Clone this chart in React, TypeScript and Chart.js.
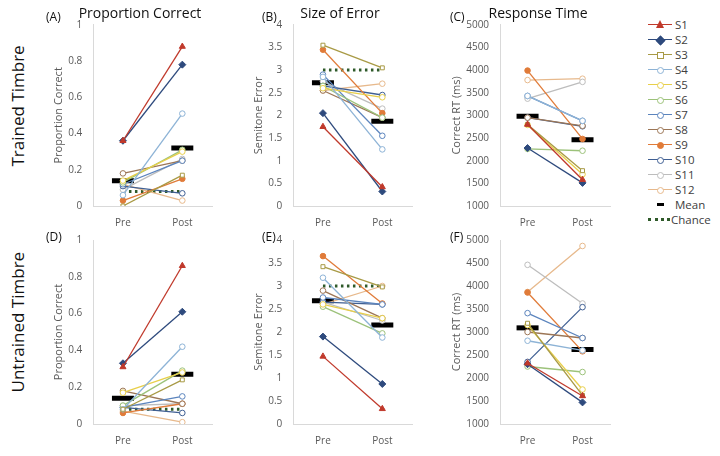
import React, { useEffect, useRef } from "react";
import { Chart, registerables } from "chart.js";
Chart.register(...registerables);

const phases = ["Pre", "Post"];
const subjects = ["S1","S2","S3","S4","S5","S6","S7","S8","S9","S10","S11","S12"];
const colors = ["#c0392b","#2e4a7d","#a89a45","#8db3d6","#e8cf4a","#9cc27a","#5b84bd","#9c7656","#e07b39","#3f5f93","#bdbdbd","#e7b98c"];
const styles = ["triangle","rectRot","rect","circle","circle","circle","circle","circle","circle","circle","circle","circle"];
const filled = [true,true,false,false,false,false,false,false,true,false,false,false];

const propTrainedPre = [0.36,0.36,0.0,0.06,0.14,0.13,0.12,0.18,0.03,0.11,0.09,0.12];
const propTrainedPost = [0.88,0.78,0.17,0.51,0.30,0.31,0.25,0.25,0.15,0.07,0.26,0.03];
const propTrainedMean = [0.14,0.32];
const errTrainedPre = [1.75,2.05,3.55,2.85,2.6,2.65,2.9,2.55,3.45,2.65,2.75,2.55];
const errTrainedPost = [0.42,0.32,3.05,1.25,2.4,1.95,1.55,1.95,2.05,2.45,2.15,2.7];
const errTrainedMean = [2.72,1.87];
const rtTrainedPre = [2800,2280,2800,3430,2790,2260,3430,2950,3990,2950,3370,3780];
const rtTrainedPost = [1580,1510,1780,2880,1700,2220,2880,2770,2480,2760,3740,3810];
const rtTrainedMean = [2980,2460];
const propUntrainedPre = [0.31,0.33,0.08,0.08,0.17,0.10,0.09,0.18,0.06,0.09,0.10,0.07];
const propUntrainedPost = [0.86,0.61,0.24,0.42,0.28,0.29,0.15,0.11,0.11,0.06,0.11,0.01];
const propUntrainedMean = [0.14,0.27];
const errUntrainedPre = [1.47,1.9,3.42,3.18,2.6,2.55,2.75,2.9,3.65,2.65,2.65,2.6];
const errUntrainedPost = [0.33,0.87,2.98,1.88,2.3,1.97,2.6,2.3,2.62,2.6,2.25,3.0];
const errUntrainedMean = [2.68,2.15];
const rtUntrainedPre = [2320,2300,3190,2810,3150,2250,3410,3000,3860,2350,4460,3870];
const rtUntrainedPost = [1610,1470,1620,2600,1750,2130,2870,2870,2580,3540,3620,4870];
const rtUntrainedMean = [3090,2620];
const propChance = [0.08,0.08];
const errChance = [3,3];

const FONT = "'Open Sans', sans-serif";

type PanelProps = { left:number; top:number; pre:number[]; post:number[]; mean:number[]; chance?:number[]; min:number; max:number; step:number; yTitle:string; title?:string; };

function Panel(p: PanelProps) {
  const ref = useRef<HTMLCanvasElement>(null);
  useEffect(() => {
    const datasets: any[] = subjects.map((s, i) => ({
      label: s, data: [p.pre[i], p.post[i]], borderColor: colors[i], backgroundColor: filled[i] ? colors[i] : "#fff",
      pointBorderColor: colors[i], pointStyle: styles[i], pointRadius: i < 2 ? 3.5 : 2.8, borderWidth: 1.3, pointBorderWidth: 1,
    }));
    if (p.chance) datasets.push({ label: "Chance", data: p.chance, borderColor: "#2f5a2a", borderDash: [2.5, 3.5], borderWidth: 3, pointRadius: 0 });
    datasets.push({ label: "Mean", data: p.mean, showLine: false, pointStyle: "line", pointRadius: 11, pointBorderWidth: 5, borderColor: "#000", backgroundColor: "#000" });
    const ch = new Chart(ref.current!, {
      type: "line",
      data: { labels: phases, datasets },
      options: {
        animation: false, responsive: false, maintainAspectRatio: false,
        layout: { padding: { top: 0, right: 0 } },
        plugins: { legend: { display: false }, tooltip: { enabled: false },
          title: { display: !!p.title, text: p.title || "", color: "#111", font: { family: FONT, size: 14, weight: "normal" }, padding: { top: 0, bottom: 2 } } },
        scales: {
          x: { offset: true, grid: { display: false }, border: { color: "#d9d9d9" }, ticks: { color: "#595959", font: { family: FONT, size: 10 } } },
          y: { min: p.min, max: p.max, ticks: { stepSize: p.step, color: "#595959", font: { family: FONT, size: 10 }, callback: (v: any) => String(Math.round(Number(v) * 100) / 100) },
            grid: { display: false, drawTicks: true }, border: { color: "#d9d9d9" },
            title: { display: true, text: p.yTitle, color: "#595959", font: { family: FONT, size: 11 }, padding: 0 } },
        },
      },
    });
    return () => ch.destroy();
  }, []);
  return <canvas ref={ref} width={176} height={226} style={{ position: "absolute", left: p.left, top: p.top }} />;
}

function Marker({ i }: { i: number }) {
  if (styles[i] === "triangle") {
    return <div style={{ position: "absolute", top: 0, left: 8, width: 0, height: 0, borderLeft: "4px solid transparent", borderRight: "4px solid transparent", borderBottom: `8px solid ${colors[i]}` }} />;
  }
  return <div style={{ position: "absolute", top: 2, left: 9, width: 5, height: 5, border: `1.2px solid ${colors[i]}`, background: filled[i] ? colors[i] : "#fff",
    borderRadius: styles[i] === "circle" ? "50%" : 0, transform: styles[i] === "rectRot" ? "rotate(45deg)" : undefined }} />;
}

function Legend() {
  const items = subjects.map((s, i) => (
    <div key={s} style={{ display: "flex", alignItems: "center", height: 15 }}>
      <div style={{ position: "relative", width: 24, height: 10 }}>
        <div style={{ position: "absolute", top: 4, left: 0, width: 24, height: 1.5, background: colors[i] }} />
        <Marker i={i} />
      </div>
      <span style={{ marginLeft: 3 }}>{s}</span>
    </div>
  ));
  return (
    <div style={{ position: "absolute", left: 648, top: 17, fontFamily: FONT, fontSize: 11.5, color: "#404040" }}>
      {items}
      <div style={{ display: "flex", alignItems: "center", height: 15 }}>
        <div style={{ width: 24, display: "flex", justifyContent: "center" }}><div style={{ width: 7, height: 3, background: "#000" }} /></div>
        <span style={{ marginLeft: 3 }}>Mean</span>
      </div>
      <div style={{ display: "flex", alignItems: "center", height: 15 }}>
        <div style={{ width: 22, borderTop: "3px dotted #2f5a2a" }} />
        <span style={{ marginLeft: 1 }}>Chance</span>
      </div>
    </div>
  );
}

const lbl = (t: string, x: number, y: number) => (
  <div style={{ position: "absolute", left: x, top: y, fontFamily: FONT, fontSize: 12, color: "#111" }}>{t}</div>
);

export default function App() {
  return (
    <div style={{ position: "absolute", left: 0, top: 0, width: 720, height: 456, background: "#fff", overflow: "hidden" }}>
      <div style={{ position: "absolute", left: -38, top: 100, width: 110, transform: "rotate(-90deg)", fontFamily: FONT, fontSize: 17, color: "#111", whiteSpace: "nowrap", textAlign: "center" }}>Trained Timbre</div>
      <div style={{ position: "absolute", left: -46, top: 318, width: 126, transform: "rotate(-90deg)", fontFamily: FONT, fontSize: 17, color: "#111", whiteSpace: "nowrap", textAlign: "center" }}>Untrained Timbre</div>
      <Panel left={52} top={6} pre={propTrainedPre} post={propTrainedPost} mean={propTrainedMean} chance={propChance} min={0} max={1} step={0.2} yTitle="Proportion Correct" title="Proportion Correct" />
      <Panel left={252} top={6} pre={errTrainedPre} post={errTrainedPost} mean={errTrainedMean} chance={errChance} min={0} max={4} step={0.5} yTitle="Semitone Error" title="Size of Error" />
      <Panel left={450} top={6} pre={rtTrainedPre} post={rtTrainedPost} mean={rtTrainedMean} min={1000} max={5000} step={500} yTitle="Correct RT (ms)" title="Response Time" />
      <Panel left={52} top={224} pre={propUntrainedPre} post={propUntrainedPost} mean={propUntrainedMean} chance={propChance} min={0} max={1} step={0.2} yTitle="Proportion Correct" />
      <Panel left={252} top={224} pre={errUntrainedPre} post={errUntrainedPost} mean={errUntrainedMean} chance={errChance} min={0} max={4} step={0.5} yTitle="Semitone Error" />
      <Panel left={450} top={224} pre={rtUntrainedPre} post={rtUntrainedPost} mean={rtUntrainedMean} min={1000} max={5000} step={500} yTitle="Correct RT (ms)" />
      {lbl("(A)", 46, 8)}{lbl("(B)", 262, 8)}{lbl("(C)", 450, 8)}
      {lbl("(D)", 46, 228)}{lbl("(E)", 262, 228)}{lbl("(F)", 450, 228)}
      <Legend />
    </div>
  );
}
